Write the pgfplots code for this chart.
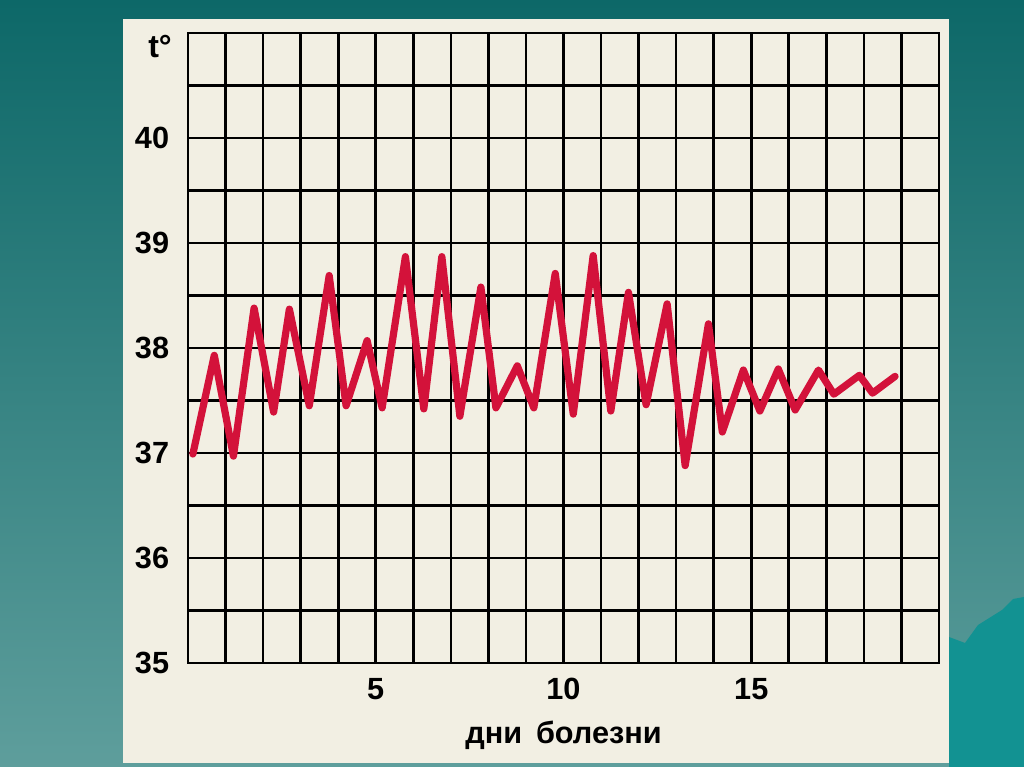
\documentclass[border=0pt]{standalone}
\usepackage{fontspec}
\setmainfont{Liberation Sans}
\usepackage{pgfplots}
\pgfplotsset{compat=1.18}
\definecolor{bgtop}{HTML}{0D6868}
\definecolor{bgbot}{HTML}{5E9E9C}
\definecolor{mount}{HTML}{129292}
\definecolor{panel}{HTML}{F2EFE3}
\definecolor{fever}{HTML}{D3123A}

\begin{document}
\begin{tikzpicture}
\shade[top color=bgtop, bottom color=bgbot] (0pt,0pt) rectangle (768pt,575.25pt);
\fill[mount] (711.75pt,97.5pt) -- (723.75pt,93pt) -- (733.5pt,106.5pt) -- (751.5pt,117.75pt) -- (759.75pt,126pt) -- (768pt,127.5pt) -- (768pt,0pt) -- (711.75pt,0pt) -- cycle;
\fill[panel] (92.25pt,3pt) rectangle (711.75pt,561pt);
\begin{axis}[
  at={(141pt,78pt)}, anchor=south west,
  scale only axis, width=563.25pt, height=472.5pt,
  xmin=0, xmax=20, ymin=35, ymax=41,
  xtick={0,1,...,20},
  xticklabels={,,,,,\textbf{5},,,,,\textbf{10},,,,,\textbf{15},,,,,},
  ytick={35,35.5,...,41},
  yticklabels={\textbf{35},,\textbf{36},,\textbf{37},,\textbf{38},,\textbf{39},,\textbf{40},,},
  major tick length=0pt,
  grid=major,
  major grid style={black, line width=2pt},
  axis line style={black, line width=2pt},
  /pgf/number format/assume math mode=true,
  tick label style={font=\fontsize{23}{25}\selectfont\bfseries, inner sep=0pt},
  yticklabel style={anchor=east, xshift=-14pt},
  xticklabel style={anchor=north, yshift=-11pt},
  xlabel={\bfseries дни\hspace{0.45em}болезни},
  xlabel style={font=\fontsize{23}{26}\selectfont\bfseries, at={(rel axis cs:0.5,0)}, anchor=base, yshift=-60pt, inner sep=0pt},
  clip=false,
]
\addplot[fever, line width=5.4pt, line join=round, line cap=round] coordinates {
(0.13,36.99) (0.70,37.93) (1.21,36.97) (1.76,38.38) (2.28,37.39) (2.70,38.37)
(3.23,37.45) (3.76,38.69) (4.21,37.45) (4.77,38.07) (5.17,37.43) (5.79,38.87)
(6.28,37.42) (6.76,38.87) (7.24,37.35) (7.80,38.58) (8.20,37.43) (8.77,37.83)
(9.21,37.43) (9.78,38.71) (10.26,37.37) (10.79,38.88) (11.26,37.40) (11.73,38.53)
(12.20,37.46) (12.76,38.42) (13.24,36.88) (13.86,38.23) (14.23,37.20) (14.79,37.79)
(15.23,37.40) (15.72,37.80) (16.17,37.41) (16.79,37.79) (17.20,37.56) (17.88,37.74)
(18.23,37.57) (18.83,37.73)
};
\node[anchor=north east, inner sep=0pt, xshift=-12pt, yshift=-1.5pt, font=\fontsize{24}{26}\selectfont\bfseries] at (rel axis cs:0,1) {t°};
\end{axis}
\end{tikzpicture}
\end{document}
